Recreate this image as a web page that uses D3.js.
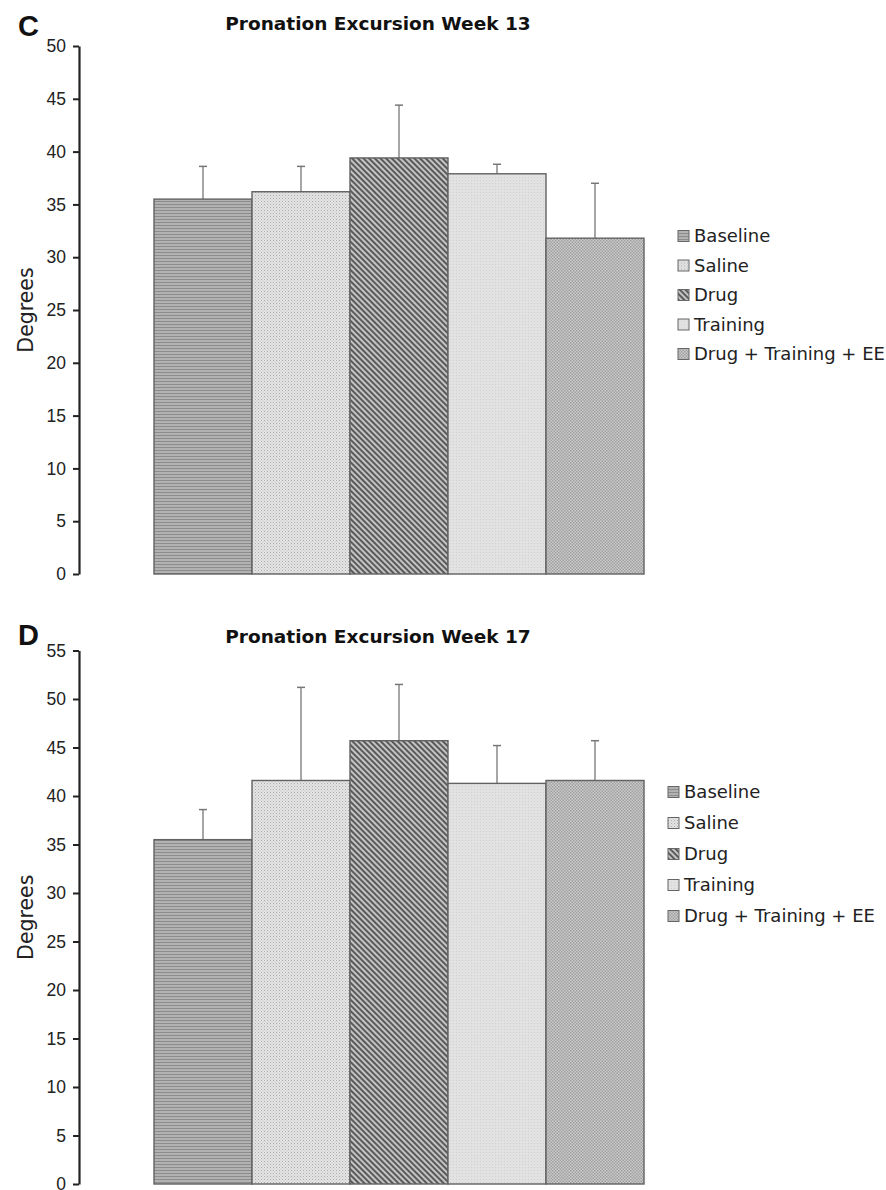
<!DOCTYPE html>
<html>
<head>
<meta charset="utf-8">
<script src="https://cdn.jsdelivr.net/npm/d3@7"></script>
<style>
  body { margin: 0; background: #fff; }
  svg { font-family: "DejaVu Sans", Verdana, sans-serif; }
  .axis path, .axis line { stroke: #222; }
  .axis text { font-size: 17.5px; fill: #222; }
</style>
</head>
<body>
<div id="chart"></div>
<script>
// groups shown in both panels
const groups = ["Baseline", "Saline", "Drug", "Training", "Drug + Training + EE"];

// week 13
const week13Means = [35.5, 36.2, 39.4, 37.9, 31.8];
const week13Errors = [3.1, 2.4, 5.0, 0.9, 5.2];
const week13Ticks = [0, 5, 10, 15, 20, 25, 30, 35, 40, 45, 50];

// week 17
const week17Means = [35.5, 41.6, 45.7, 41.3, 41.6];
const week17Errors = [3.1, 9.6, 5.8, 3.9, 4.1];
const week17Ticks = [0, 5, 10, 15, 20, 25, 30, 35, 40, 45, 50, 55];

const width = 886;
const height = 1190;

const svg = d3.select("#chart")
  .append("svg")
    .attr("width", width)
    .attr("height", height);

// fill patterns, one per group
const defs = svg.append("defs");

const patBaseline = defs.append("pattern")
  .attr("id", "pat-0").attr("patternUnits", "userSpaceOnUse")
  .attr("width", 4).attr("height", 3);
patBaseline.append("rect").attr("width", 4).attr("height", 3).attr("fill", "#b2b2b2");
patBaseline.append("rect").attr("width", 4).attr("height", 1).attr("fill", "#8c8c8c");

const patSaline = defs.append("pattern")
  .attr("id", "pat-1").attr("patternUnits", "userSpaceOnUse")
  .attr("width", 3).attr("height", 3);
patSaline.append("rect").attr("width", 3).attr("height", 3).attr("fill", "#e4e4e4");
patSaline.append("rect").attr("width", 1).attr("height", 1).attr("fill", "#acacac");
patSaline.append("rect").attr("x", 1.5).attr("y", 1.5).attr("width", 1).attr("height", 1).attr("fill", "#c2c2c2");

const patDrug = defs.append("pattern")
  .attr("id", "pat-2").attr("patternUnits", "userSpaceOnUse")
  .attr("width", 4).attr("height", 4)
  .attr("patternTransform", "rotate(-45)");
patDrug.append("rect").attr("width", 4).attr("height", 4).attr("fill", "#c4c4c4");
patDrug.append("rect").attr("width", 2).attr("height", 4).attr("fill", "#5a5a5a");

const patTraining = defs.append("pattern")
  .attr("id", "pat-3").attr("patternUnits", "userSpaceOnUse")
  .attr("width", 3).attr("height", 3);
patTraining.append("rect").attr("width", 3).attr("height", 3).attr("fill", "#e2e2e2");
patTraining.append("rect").attr("width", 1).attr("height", 1).attr("fill", "#d0d0d0");

const patCombo = defs.append("pattern")
  .attr("id", "pat-4").attr("patternUnits", "userSpaceOnUse")
  .attr("width", 3).attr("height", 3);
patCombo.append("rect").attr("width", 3).attr("height", 3).attr("fill", "#cbcbcb");
patCombo.append("rect").attr("width", 1.5).attr("height", 1.5).attr("fill", "#a0a0a0");
patCombo.append("rect").attr("x", 1.5).attr("y", 1.5).attr("width", 1.5).attr("height", 1.5).attr("fill", "#a0a0a0");

const drawPanel = (panel) => {

  const data = groups.map((g, i) => ({ group: g, i: i, mean: panel.means[i], err: panel.errors[i] }));

  const xScale = d3.scaleBand()
    .domain(groups)
    .range([154, 644])
    .padding(0);

  const yScale = d3.scaleLinear()
    .domain([0, d3.max(panel.ticks)])
    .range([panel.bottom, panel.top]);

  const g = svg.append("g");

  // error bars (only upper half visible above bar)
  g.selectAll(".err")
    .data(data)
    .join("line")
      .attr("class", "err")
      .attr("x1", d => xScale(d.group) + xScale.bandwidth() / 2)
      .attr("x2", d => xScale(d.group) + xScale.bandwidth() / 2)
      .attr("y1", d => yScale(d.mean))
      .attr("y2", d => yScale(d.mean + d.err))
      .attr("stroke", "#888")
      .attr("stroke-width", 1.5);
  g.selectAll(".cap")
    .data(data)
    .join("line")
      .attr("class", "cap")
      .attr("x1", d => xScale(d.group) + xScale.bandwidth() / 2 - 4)
      .attr("x2", d => xScale(d.group) + xScale.bandwidth() / 2 + 4)
      .attr("y1", d => yScale(d.mean + d.err))
      .attr("y2", d => yScale(d.mean + d.err))
      .attr("stroke", "#777")
      .attr("stroke-width", 1.5);

  // bars
  g.selectAll(".bar")
    .data(data)
    .join("rect")
      .attr("class", "bar")
      .attr("x", d => xScale(d.group))
      .attr("y", d => yScale(d.mean))
      .attr("width", xScale.bandwidth())
      .attr("height", d => yScale(0) - yScale(d.mean))
      .attr("fill", d => `url(#pat-${d.i})`)
      .attr("stroke", "#626262")
      .attr("stroke-width", 1.4);

  // y axis
  const leftAxis = d3.axisLeft(yScale)
    .tickValues(panel.ticks)
    .tickSize(6)
    .tickSizeOuter(0)
    .tickPadding(7);
  g.append("g")
    .attr("class", "axis")
    .attr("transform", `translate(79, 0)`)
    .call(leftAxis)
    .call(a => a.select(".domain").attr("stroke-width", 2.2))
    .call(a => a.selectAll(".tick line").attr("stroke-width", 2));

  // y label
  g.append("text")
    .attr("transform", `translate(33, ${(panel.top + panel.bottom) / 2}) rotate(-90)`)
    .attr("text-anchor", "middle")
    .attr("font-size", 20.5)
    .attr("fill", "#222")
    .text("Degrees");

  // title and panel letter
  g.append("text")
    .attr("x", 378)
    .attr("y", panel.titleY)
    .attr("text-anchor", "middle")
    .attr("font-size", 18.5)
    .attr("font-weight", "bold")
    .attr("fill", "#111")
    .text(panel.title);
  g.append("text")
    .attr("x", 18)
    .attr("y", panel.letterY)
    .attr("font-size", 29)
    .attr("font-weight", "bold")
    .attr("font-family", "Liberation Sans, Arial, sans-serif")
    .attr("fill", "#111")
    .text(panel.letter);

  // legend
  const legend = g.append("g")
    .attr("transform", `translate(${panel.legendX}, ${panel.legendY})`);
  const item = legend.selectAll(".item")
    .data(data)
    .join("g")
      .attr("class", "item")
      .attr("transform", d => `translate(0, ${d.i * panel.legendStep})`);
  item.append("rect")
    .attr("x", 0).attr("y", -5.5)
    .attr("width", 11).attr("height", 11)
    .attr("fill", d => `url(#pat-${d.i})`)
    .attr("stroke", "#666")
    .attr("stroke-width", 1);
  item.append("text")
    .attr("x", 16)
    .attr("dy", "0.36em")
    .attr("font-size", 18)
    .attr("fill", "#222")
    .text(d => d.group);
};

drawPanel({
  letter: "C", letterY: 36,
  title: "Pronation Excursion Week 13", titleY: 30,
  means: week13Means, errors: week13Errors, ticks: week13Ticks,
  top: 46, bottom: 574,
  legendX: 678, legendY: 236, legendStep: 29.5
});

drawPanel({
  letter: "D", letterY: 645,
  title: "Pronation Excursion Week 17", titleY: 643,
  means: week17Means, errors: week17Errors, ticks: week17Ticks,
  top: 650.5, bottom: 1184,
  legendX: 668, legendY: 792, legendStep: 31
});
</script>
</body>
</html>
